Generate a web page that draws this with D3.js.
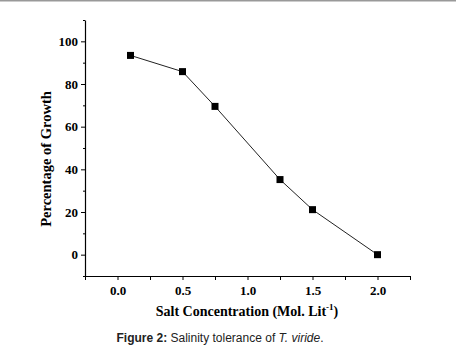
<!DOCTYPE html>
<html>
<head>
<meta charset="utf-8">
<script src="https://cdnjs.cloudflare.com/ajax/libs/d3/7.8.5/d3.min.js"></script>
<style>
  html, body { margin: 0; padding: 0; background: #fff; }
  #chart { width: 456px; height: 350px; }
  .tick text { font-family: "Liberation Serif", "Times New Roman", serif; font-weight: bold; font-size: 13px; }
</style>
</head>
<body>
<div id="chart"></div>
<script>
// Data
const saltConc = [0.1, 0.5, 0.75, 1.25, 1.5, 2.0];
const growth = [93.4, 85.8, 69.5, 35.2, 21.1, 0];
const xTicks = [0, 0.5, 1.0, 1.5, 2.0];
const yTicks = [0, 20, 40, 60, 80, 100];

const width = 456;
const height = 350;

const svg = d3.select('#chart')
    .append('svg')
    .attr('width', width)
    .attr('height', height);

// thin grey rule at the top of the page
svg.append('rect')
    .attr('x', 0).attr('y', 0)
    .attr('width', width).attr('height', 1.5)
    .attr('fill', '#999');

const x = d3.scaleLinear().domain([-0.25, 2.25]).range([85, 410]);
const y = d3.scaleLinear().domain([-10, 110]).range([276, 20]);

const serif = '"Liberation Serif", "Times New Roman", serif';

// x axis
const xAxis = svg.append('g')
    .attr('transform', `translate(0,${y(-10)})`)
    .call(d3.axisBottom(x).tickValues(xTicks).tickFormat(d3.format('.1f')).tickSize(4).tickSizeOuter(0));
svg.append('g')
    .attr('transform', `translate(0,${y(-10)})`)
    .call(d3.axisBottom(x).tickValues([-0.25, 0.25, 0.75, 1.25, 1.75, 2.25]).tickFormat('').tickSize(4).tickSizeOuter(0))
    .select('.domain').remove();

// y axis
const yAxis = svg.append('g')
    .attr('transform', `translate(${x(-0.25)},0)`)
    .call(d3.axisLeft(y).tickValues(yTicks).tickSize(4).tickSizeOuter(0));
svg.append('g')
    .attr('transform', `translate(${x(-0.25)},0)`)
    .call(d3.axisLeft(y).tickValues([-10, 10, 30, 50, 70, 90, 110]).tickFormat('').tickSize(2).tickSizeOuter(0))
    .select('.domain').remove();

svg.selectAll('.domain').attr('stroke', '#000').attr('stroke-width', 1.2);
svg.selectAll('.tick line').attr('stroke', '#000');
svg.selectAll('.tick text').attr('fill', '#000');
xAxis.selectAll('.tick text').attr('dy', '0.95em');
yAxis.selectAll('.tick text').attr('x', -7);

// line and markers
const line = d3.line()
    .x((d, i) => x(saltConc[i]))
    .y(d => y(d));

svg.append('path')
    .datum(growth)
    .attr('d', line)
    .attr('fill', 'none')
    .attr('stroke', '#222')
    .attr('stroke-width', 1);

svg.selectAll('rect.pt')
    .data(growth)
    .enter()
    .append('rect')
    .attr('class', 'pt')
    .attr('x', (d, i) => x(saltConc[i]) - 3.5)
    .attr('y', d => y(d) - 3.5)
    .attr('width', 7)
    .attr('height', 7)
    .attr('fill', '#000');

// axis titles
svg.append('text')
    .attr('transform', 'translate(51,159) rotate(-90)')
    .attr('text-anchor', 'middle')
    .style('font-family', serif)
    .style('font-weight', 'bold')
    .style('font-size', '14.5px')
    .text('Percentage of Growth');

const xt = svg.append('text')
    .attr('x', 247)
    .attr('y', 316)
    .attr('text-anchor', 'middle')
    .style('font-family', serif)
    .style('font-weight', 'bold')
    .style('font-size', '14px');
xt.append('tspan').text('Salt Concentration (Mol. Lit');
xt.append('tspan').style('font-size', '9px').attr('dy', -6).text('-1');
xt.append('tspan').attr('dy', 6).text(')');

// caption
const cap = svg.append('text')
    .attr('x', 220)
    .attr('y', 342)
    .attr('text-anchor', 'middle')
    .style('font-family', '"Liberation Sans", Arial, sans-serif')
    .style('font-size', '12px')
    .attr('fill', '#222');
cap.append('tspan').style('font-weight', 'bold').text('Figure 2:');
cap.append('tspan').text(' Salinity tolerance of ');
cap.append('tspan').style('font-style', 'italic').text('T. viride');
cap.append('tspan').text('.');
</script>
</body>
</html>
